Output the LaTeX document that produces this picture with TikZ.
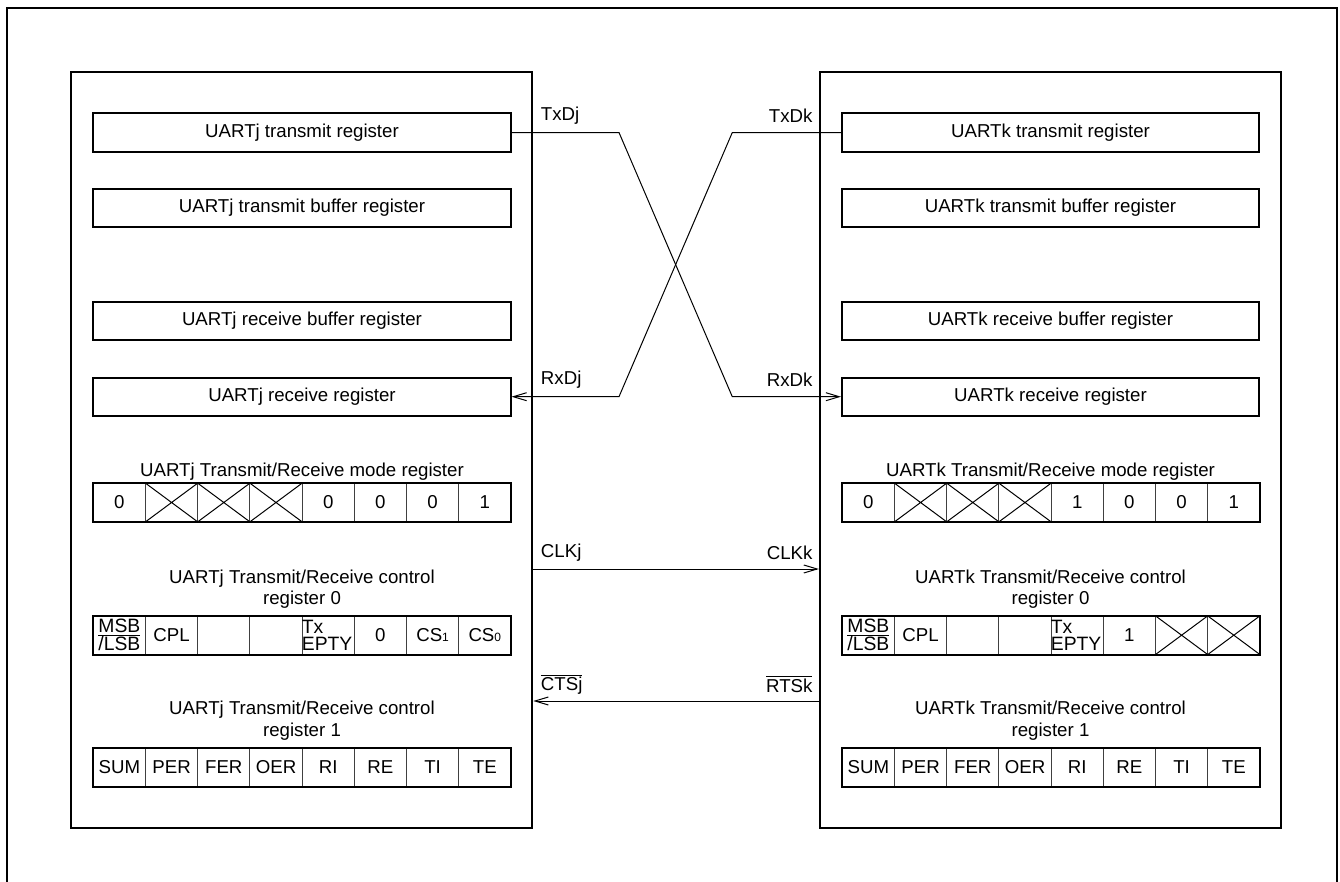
\documentclass[tikz,border=0pt]{standalone}
\usepackage{fontspec}
\setmainfont{Liberation Sans}
\usetikzlibrary{arrows.meta,positioning}

\newcommand{\subdig}[1]{{\fontsize{9}{9}\selectfont #1}}

\tikzset{
  frameline/.style={line width=1.5pt},
  panel/.style={draw, line width=1.5pt, minimum width=346.2pt, minimum height=567.2pt, inner sep=0pt},
  regbox/.style={draw, line width=1.5pt, minimum width=312.8pt, minimum height=28.8pt, inner sep=0pt, font=\fontsize{14}{16}\selectfont},
  cell/.style={draw=black!75, line width=0.75pt, minimum width=39.15pt, minimum height=28.8pt, inner sep=0pt, font=\fontsize{14}{16}\selectfont},
  rowframe/.style={line width=1.5pt},
  sig/.style={line width=0.75pt},
  siglabel/.style={inner sep=0pt, font=\fontsize{14}{16}\selectfont},
  reglabel/.style={align=center, inner sep=0pt, font=\fontsize{14}{16.3}\selectfont},
  stack/.style={align=center, inner sep=0pt, font=\fontsize{14.5}{12.5}\selectfont},
}

\begin{document}
\begin{tikzpicture}[x=0.75pt, y=-0.75pt, line join=miter, >={Straight Barb[length=10pt,width=6pt]}]

  \useasboundingbox (0,0) rectangle (1340,882);

  % Outer frame (open at the bottom)
  \draw[frameline] (7,882) -- (7,8) -- (1337,8) -- (1337,882);

  % Panels of the two UARTs
  \node[panel] (pj) at (301.5,449.85) {};
  \node[panel] (pk) at (1050.65,449.85) {};

  % Registers of UARTj
  \node[regbox] (trj) at (302,132.5) {UARTj transmit register};
  \node[regbox] (tbj) at (302,208) {UARTj transmit buffer register};
  \node[regbox] (rbj) at (302,321) {UARTj receive buffer register};
  \node[regbox] (rrj) at (302,396.7) {UARTj receive register};

  % Registers of UARTk
  \node[regbox] (trk) at (1050.5,132.5) {UARTk transmit register};
  \node[regbox] (tbk) at (1050.5,208) {UARTk transmit buffer register};
  \node[regbox] (rbk) at (1050.5,321) {UARTk receive buffer register};
  \node[regbox] (rrk) at (1050.5,396.7) {UARTk receive register};

  % Register titles
  \node[reglabel] (mjl) at (302,471.7) {UARTj Transmit/Receive mode register};
  \node[reglabel] (cjl0) at (302,589.2) {UARTj Transmit/Receive control\\register 0};
  \node[reglabel] (cjl1) at (302,720.9) {UARTj Transmit/Receive control\\register 1};
  \node[reglabel] (mkl) at (1050.5,471.7) {UARTk Transmit/Receive mode register};
  \node[reglabel] (ckl0) at (1050.5,589.2) {UARTk Transmit/Receive control\\register 0};
  \node[reglabel] (ckl1) at (1050.5,720.9) {UARTk Transmit/Receive control\\register 1};

  % Mode registers
  \foreach \t [count=\i] in {0,{},{},{},0,0,0,1}
    \node[cell] (mj\i) at ({93.3+52.2*\i-26.1},502.5) {\t};
  \foreach \t [count=\i] in {0,{},{},{},1,0,0,1}
    \node[cell] (mk\i) at ({842.3+52.2*\i-26.1},502.5) {\t};

  % Control registers 0
  \foreach \t [count=\i] in {{},CPL,{},{},{},0,CS\subdig{1},CS\subdig{0}}
    \node[cell] (cj\i) at ({93.3+52.2*\i-26.1},635.2) {\t};
  \foreach \t [count=\i] in {{},CPL,{},{},{},1,{},{}}
    \node[cell] (ck\i) at ({842.3+52.2*\i-26.1},635.2) {\t};
  \node[stack] (msbj) at (cj1) {\underline{MSB}\\/LSB};
  \node[stack] (msbk) at (ck1) {\underline{MSB}\\/LSB};
  \node[stack, anchor=west, align=left] (eptyj) at (cj5.west) {Tx\\EPTY};
  \node[stack, anchor=west, align=left] (eptyk) at (ck5.west) {Tx\\EPTY};

  % Control registers 1
  \foreach \t [count=\i] in {SUM,PER,FER,OER,RI,RE,TI,TE} {
    \node[cell] (dj\i) at ({93.3+52.2*\i-26.1},767.5) {\t};
    \node[cell] (dk\i) at ({842.3+52.2*\i-26.1},767.5) {\t};
  }

  % Thick outline round each register row
  \foreach \r in {mj,mk,cj,ck,dj,dk}
    \draw[rowframe] (\r1.north west) rectangle (\r8.south east);

  % Bits that are not used
  \foreach \c in {mj2,mj3,mj4,mk2,mk3,mk4,ck7,ck8}
    \draw[sig] (\c.north west) -- (\c.south east) (\c.south west) -- (\c.north east);

  % Signal names
  \node[siglabel, anchor=west] (ltxj) at (540.7,115.7) {TxDj};
  \node[siglabel, anchor=east] (ltxk) at (812.7,115.7) {TxDk};
  \node[siglabel, anchor=west] (lrxj) at (540.7,379.3) {RxDj};
  \node[siglabel, anchor=east] (lrxk) at (812.7,379.3) {RxDk};
  \node[siglabel, anchor=west] (lclkj) at (540.7,552.7) {CLKj};
  \node[siglabel, anchor=east] (lclkk) at (812.7,552.7) {CLKk};
  \node[siglabel, anchor=west] (lctsj) at (540.7,684) {$\overline{\mbox{CTSj}}$};
  \node[siglabel, anchor=east] (lrtsk) at (812.7,684) {$\overline{\mbox{RTSk}}$};

  % Crossed data lines
  \coordinate (xa) at (619,132.5);
  \coordinate (xb) at (732.3,396.7);
  \coordinate (xc) at (732.3,132.5);
  \coordinate (xd) at (619,396.7);
  \draw[sig,->] (trj.east) -- (xa) -- (xb) -- (rrk.west);
  \draw[sig,->] (trk.west) -- (xc) -- (xd) -- (rrj.east);

  % Clock and handshake
  \coordinate (clk) at (0,569);
  \coordinate (cts) at (0,701);
  \draw[sig,->] (pj.east |- clk) -- (pk.west |- clk);
  \draw[sig,->] (pk.west |- cts) -- (pj.east |- cts);

\end{tikzpicture}
\end{document}
